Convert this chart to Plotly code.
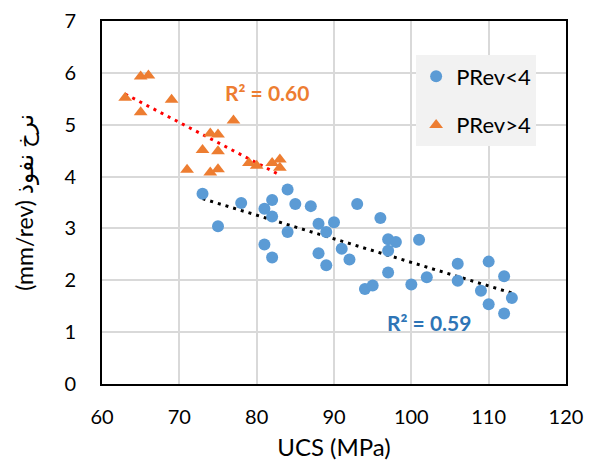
import numpy as np
import plotly.graph_objects as go

# PRev<4 series
ucs_low = [73, 75, 78, 81, 82, 82, 84, 85, 87, 93, 96, 88, 90, 89, 84, 81, 82, 88, 89, 91,
           92, 94, 95, 97, 98, 97, 101, 97, 100, 102, 106, 106, 110, 112, 109, 110, 113, 112]
pr_low = [3.67, 3.04, 3.49, 3.38, 3.55, 3.23, 3.75, 3.47, 3.43, 3.47, 3.20, 3.09, 3.12, 2.93,
          2.93, 2.69, 2.44, 2.52, 2.29, 2.61, 2.40, 1.83, 1.90, 2.79, 2.74, 2.57, 2.78, 2.15,
          1.92, 2.06, 2.32, 1.99, 2.36, 2.08, 1.80, 1.54, 1.66, 1.36]

# PRev>4 series
ucs_high = [63, 65, 66, 65, 69, 77, 74, 75, 73, 75, 71, 74, 75, 79, 80, 82, 83, 83]
pr_high = [5.52, 5.93, 5.95, 5.24, 5.48, 5.08, 4.83, 4.81, 4.51, 4.49, 4.13, 4.08, 4.14,
           4.26, 4.21, 4.26, 4.33, 4.17]

series_names = ["PRev<4", "PRev>4"]
r2_labels = ["R² = 0.59", "R² = 0.60"]
x_title = "UCS (MPa)"
y_title = "(mm/rev) نرخ نفوذ"

BLUE = "#5B9BD5"
ORANGE = "#ED7D31"
FONT = "Lato, 'Open Sans', 'DejaVu Sans', sans-serif"


def trend(x, y):
    x = np.asarray(x, float)
    y = np.asarray(y, float)
    k, b = np.polyfit(x, y, 1)
    xs = np.array([x.min(), x.max()])
    return xs, k * xs + b


fig = go.Figure()

tx, ty = trend(ucs_low, pr_low)
fig.add_trace(go.Scatter(x=tx, y=ty, mode="lines", showlegend=False, hoverinfo="skip",
                         line=dict(color="black", width=3, dash="3px,5px")))
tx2, ty2 = trend(ucs_high, pr_high)
fig.add_trace(go.Scatter(x=tx2, y=ty2, mode="lines", showlegend=False, hoverinfo="skip",
                         line=dict(color="#FF0000", width=3, dash="3px,5px")))

fig.add_trace(go.Scatter(x=ucs_low, y=pr_low, mode="markers", name=series_names[0],
                         legendgroup="a",
                         marker=dict(symbol="circle", size=12, color=BLUE)))
fig.add_trace(go.Scatter(x=ucs_high, y=pr_high, mode="markers", name=series_names[1],
                         legendgroup="b",
                         marker=dict(symbol="triangle-up", size=12, color=ORANGE)))

fig.add_annotation(x=102.3, y=1.19, text="<b>" + r2_labels[0] + "</b>", showarrow=False,
                   font=dict(family=FONT, size=21, color="#2E75B6"))
fig.add_annotation(x=81.3, y=5.62, text="<b>" + r2_labels[1] + "</b>", showarrow=False,
                   font=dict(family=FONT, size=21, color=ORANGE))

fig.update_layout(
    width=593, height=461,
    margin=dict(l=102, r=27, t=21, b=77, autoexpand=False),
    paper_bgcolor="white", plot_bgcolor="white",
    font=dict(family=FONT, size=20, color="black"),
    showlegend=True,
    legend=dict(x=0.677, y=0.905, xanchor="left", yanchor="top",
                bgcolor="#F2F2F2", font=dict(size=22), tracegroupgap=17,
                borderwidth=0, itemsizing="trace"),
)
fig.update_xaxes(range=[60, 120], dtick=10, showgrid=True, gridcolor="#D9D9D9", gridwidth=2,
                 showline=True, linecolor="black", linewidth=2, mirror=True, zeroline=False,
                 ticks="", ticklabelstandoff=14, tickfont=dict(size=20),
                 title=dict(text=x_title, font=dict(size=24), standoff=16))
fig.update_yaxes(range=[0, 7], dtick=1, showgrid=True, gridcolor="#D9D9D9", gridwidth=2,
                 showline=True, linecolor="black", linewidth=2, mirror=True, zeroline=False,
                 ticks="", ticklabelstandoff=20, tickfont=dict(size=20),
                 title=dict(text=y_title, font=dict(size=23), standoff=24))

fig.write_html("out.html", config={"displayModeBar": False},
               post_script="document.body.style.margin='0';")
